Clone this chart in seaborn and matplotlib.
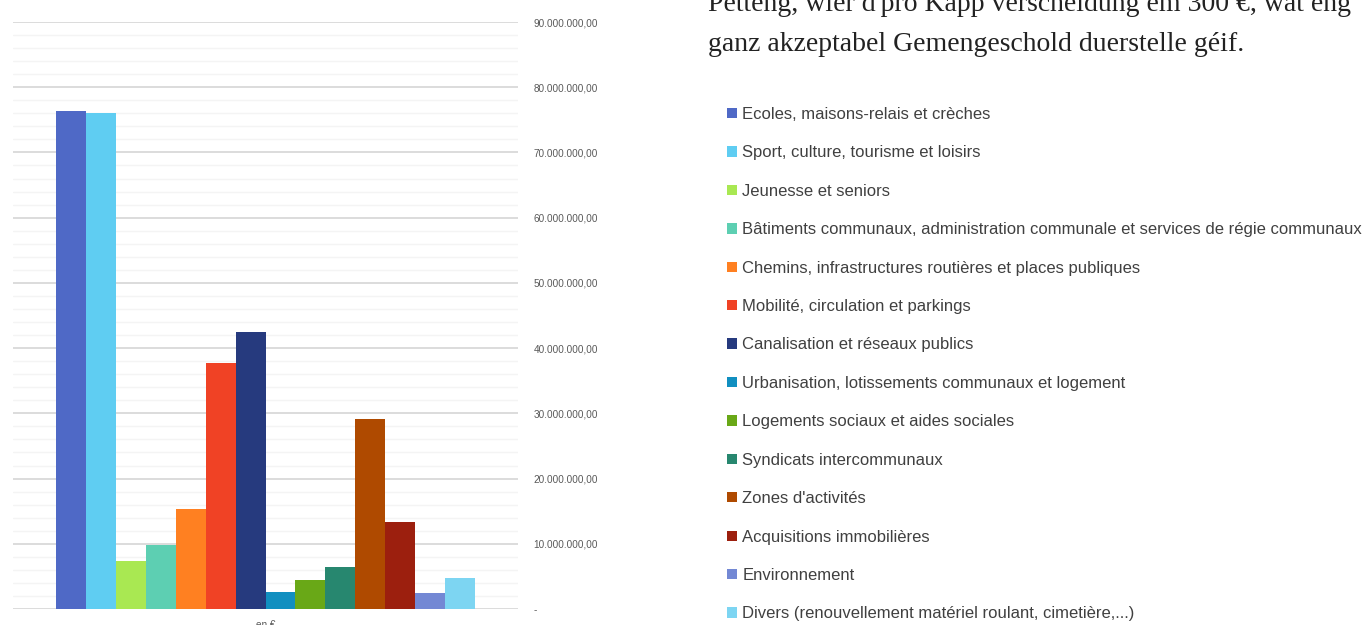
import matplotlib
matplotlib.use("Agg")
import matplotlib.pyplot as plt
import pandas as pd
import seaborn as sns
from matplotlib.ticker import MultipleLocator, FuncFormatter


# Données : investissements par domaine (en €)
categories = [
    "Ecoles, maisons-relais et crèches",
    "Sport, culture, tourisme et loisirs",
    "Jeunesse et seniors",
    "Bâtiments communaux, administration communale et services de régie communaux",
    "Chemins, infrastructures routières et places publiques",
    "Mobilité, circulation et parkings",
    "Canalisation et réseaux publics",
    "Urbanisation, lotissements communaux et logement",
    "Logements sociaux et aides sociales",
    "Syndicats intercommunaux",
    "Zones d'activités",
    "Acquisitions immobilières",
    "Environnement",
    "Divers (renouvellement matériel roulant, cimetière,...)",
]
montants = [76.4e6, 76.1e6, 7.4e6, 9.8e6, 15.3e6, 37.7e6, 42.5e6,
            2.6e6, 4.4e6, 6.4e6, 29.1e6, 13.3e6, 2.5e6, 4.8e6]
couleurs = ["#4F69C6", "#5FCDF2", "#A9E852", "#5DCFB2", "#FF8021", "#F04225",
            "#263A7E", "#118FC0", "#69A817", "#27876F", "#AF4A00", "#9C1F0E",
            "#7388D4", "#7DD5F2"]
groupe = "en €"
texte_haut = ["Pëtteng, wier d'pro Kapp verscheldung ëm 300 €, wat eng",
              "ganz akzeptabel Gemengeschold duerstelle géif."]


# Formatage des montants à la luxembourgeoise : 90.000.000,00
def fmt_euro(v, pos):
    if abs(v) < 1:
        return "-"
    s = f"{v:,.2f}"
    return s.replace(",", "X").replace(".", ",").replace("X", ".")


df = pd.DataFrame({"groupe": groupe, "categorie": categories, "montant": montants})

sns.set_style("white")
plt.rcParams["font.family"] = ["Liberation Sans", "DejaVu Sans"]

fig = plt.figure(figsize=(13.68, 6.25), dpi=100)
ax = fig.add_axes([13 / 1368, 16 / 625, 505 / 1368, 587 / 625])

sns.barplot(data=df, x="groupe", y="montant", hue="categorie",
            hue_order=categories, palette=dict(zip(categories, couleurs)),
            width=0.83, linewidth=0, saturation=1, ax=ax)

ax.set_xlim(-0.5, 0.5)
ax.set_ylim(0, 90e6)
ax.yaxis.set_major_locator(MultipleLocator(10e6))
ax.yaxis.set_minor_locator(MultipleLocator(2e6))
ax.yaxis.set_major_formatter(FuncFormatter(fmt_euro))
ax.yaxis.tick_right()
ax.grid(which="major", axis="y", color="#D9D9D9", linewidth=1.3, zorder=0)
ax.grid(which="minor", axis="y", color="#F4F4F4", linewidth=1.0, zorder=0)
ax.set_axisbelow(True)
ax.tick_params(axis="y", which="both", length=0, pad=11, labelsize=7.2,
               labelcolor="#595959")
ax.tick_params(axis="x", length=0, pad=8, labelsize=7.2, labelcolor="#595959")
ax.set_xlabel("")
ax.set_ylabel("")
for s in ax.spines.values():
    s.set_visible(False)

# Légende à droite
handles, labels = ax.get_legend_handles_labels()
ax.get_legend().remove()
fig.legend(handles, labels, loc="upper left",
           bbox_to_anchor=(727 / 1368, 1 - 107 / 625), frameon=False,
           fontsize=12, labelcolor="#404040", handlelength=0.58,
           handleheight=0.58, handletextpad=0.35, labelspacing=1.405,
           borderpad=0, borderaxespad=0)

# Texte de l'article (coupé en haut)
fig.text(708 / 1368, 1 - 11 / 625, texte_haut[0], family="Liberation Serif",
         fontsize=20, color="#222222", va="baseline")
fig.text(708 / 1368, 1 - 51 / 625, texte_haut[1], family="Liberation Serif",
         fontsize=20, color="#222222", va="baseline")

fig.savefig("out.png", dpi=100)
